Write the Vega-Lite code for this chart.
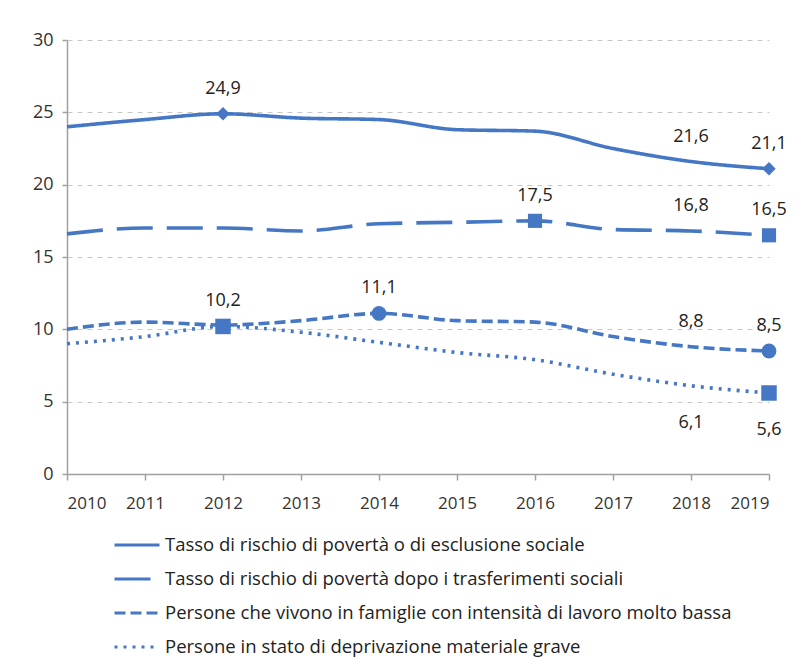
{
  "$schema": "https://vega.github.io/schema/vega-lite/v6.json",
  "width": 702,
  "height": 434,
  "autosize": "none",
  "padding": {"left": 67, "top": 40, "right": 42, "bottom": 183},
  "background": "white",
  "config": {
    "locale": {"number": {"decimal": ",", "thousands": ".", "grouping": [3], "currency": ["€", ""]}},
    "view": {"stroke": null},
    "font": "Open Sans"
  },
  "data": {
    "values": [
      {"series": "Tasso di rischio di povertà o di esclusione sociale", "year": 2010, "value": 24.0, "marker": false, "label": false},
      {"series": "Tasso di rischio di povertà o di esclusione sociale", "year": 2011, "value": 24.5, "marker": false, "label": false},
      {"series": "Tasso di rischio di povertà o di esclusione sociale", "year": 2012, "value": 24.9, "marker": true, "label": true},
      {"series": "Tasso di rischio di povertà o di esclusione sociale", "year": 2013, "value": 24.6, "marker": false, "label": false},
      {"series": "Tasso di rischio di povertà o di esclusione sociale", "year": 2014, "value": 24.5, "marker": false, "label": false},
      {"series": "Tasso di rischio di povertà o di esclusione sociale", "year": 2015, "value": 23.8, "marker": false, "label": false},
      {"series": "Tasso di rischio di povertà o di esclusione sociale", "year": 2016, "value": 23.7, "marker": false, "label": false},
      {"series": "Tasso di rischio di povertà o di esclusione sociale", "year": 2017, "value": 22.5, "marker": false, "label": false},
      {"series": "Tasso di rischio di povertà o di esclusione sociale", "year": 2018, "value": 21.6, "marker": false, "label": true},
      {"series": "Tasso di rischio di povertà o di esclusione sociale", "year": 2019, "value": 21.1, "marker": true, "label": true},
      {"series": "Tasso di rischio di povertà dopo i trasferimenti sociali", "year": 2010, "value": 16.6, "marker": false, "label": false},
      {"series": "Tasso di rischio di povertà dopo i trasferimenti sociali", "year": 2011, "value": 17.0, "marker": false, "label": false},
      {"series": "Tasso di rischio di povertà dopo i trasferimenti sociali", "year": 2012, "value": 17.0, "marker": false, "label": false},
      {"series": "Tasso di rischio di povertà dopo i trasferimenti sociali", "year": 2013, "value": 16.8, "marker": false, "label": false},
      {"series": "Tasso di rischio di povertà dopo i trasferimenti sociali", "year": 2014, "value": 17.3, "marker": false, "label": false},
      {"series": "Tasso di rischio di povertà dopo i trasferimenti sociali", "year": 2015, "value": 17.4, "marker": false, "label": false},
      {"series": "Tasso di rischio di povertà dopo i trasferimenti sociali", "year": 2016, "value": 17.5, "marker": true, "label": true},
      {"series": "Tasso di rischio di povertà dopo i trasferimenti sociali", "year": 2017, "value": 16.9, "marker": false, "label": false},
      {"series": "Tasso di rischio di povertà dopo i trasferimenti sociali", "year": 2018, "value": 16.8, "marker": false, "label": true},
      {"series": "Tasso di rischio di povertà dopo i trasferimenti sociali", "year": 2019, "value": 16.5, "marker": true, "label": true},
      {"series": "Persone che vivono in famiglie con intensità di lavoro molto bassa", "year": 2010, "value": 10.0, "marker": false, "label": false},
      {"series": "Persone che vivono in famiglie con intensità di lavoro molto bassa", "year": 2011, "value": 10.5, "marker": false, "label": false},
      {"series": "Persone che vivono in famiglie con intensità di lavoro molto bassa", "year": 2012, "value": 10.3, "marker": false, "label": false},
      {"series": "Persone che vivono in famiglie con intensità di lavoro molto bassa", "year": 2013, "value": 10.6, "marker": false, "label": false},
      {"series": "Persone che vivono in famiglie con intensità di lavoro molto bassa", "year": 2014, "value": 11.1, "marker": true, "label": true},
      {"series": "Persone che vivono in famiglie con intensità di lavoro molto bassa", "year": 2015, "value": 10.6, "marker": false, "label": false},
      {"series": "Persone che vivono in famiglie con intensità di lavoro molto bassa", "year": 2016, "value": 10.5, "marker": false, "label": false},
      {"series": "Persone che vivono in famiglie con intensità di lavoro molto bassa", "year": 2017, "value": 9.5, "marker": false, "label": false},
      {"series": "Persone che vivono in famiglie con intensità di lavoro molto bassa", "year": 2018, "value": 8.8, "marker": false, "label": true},
      {"series": "Persone che vivono in famiglie con intensità di lavoro molto bassa", "year": 2019, "value": 8.5, "marker": true, "label": true},
      {"series": "Persone in stato di deprivazione materiale grave", "year": 2010, "value": 9.0, "marker": false, "label": false},
      {"series": "Persone in stato di deprivazione materiale grave", "year": 2011, "value": 9.5, "marker": false, "label": false},
      {"series": "Persone in stato di deprivazione materiale grave", "year": 2012, "value": 10.2, "marker": true, "label": true},
      {"series": "Persone in stato di deprivazione materiale grave", "year": 2013, "value": 9.8, "marker": false, "label": false},
      {"series": "Persone in stato di deprivazione materiale grave", "year": 2014, "value": 9.1, "marker": false, "label": false},
      {"series": "Persone in stato di deprivazione materiale grave", "year": 2015, "value": 8.4, "marker": false, "label": false},
      {"series": "Persone in stato di deprivazione materiale grave", "year": 2016, "value": 7.9, "marker": false, "label": false},
      {"series": "Persone in stato di deprivazione materiale grave", "year": 2017, "value": 6.9, "marker": false, "label": false},
      {"series": "Persone in stato di deprivazione materiale grave", "year": 2018, "value": 6.1, "marker": false, "label": true},
      {"series": "Persone in stato di deprivazione materiale grave", "year": 2019, "value": 5.6, "marker": true, "label": true}
    ]
  },
  "encoding": {
    "x": {
      "field": "year", "type": "quantitative",
      "scale": {"domain": [2010, 2019], "nice": false, "zero": false},
      "axis": {
        "title": null, "values": [2010, 2011, 2012, 2013, 2014, 2015, 2016, 2017, 2018, 2019], "format": "d",
        "grid": false, "domainColor": "#a0a0a0", "domainWidth": 1.5, "tickColor": "#a0a0a0", "tickSize": 6, "tickWidth": 1.5,
        "labelFontSize": 17, "labelColor": "#333333", "labelPadding": 15
      }
    },
    "y": {
      "field": "value", "type": "quantitative",
      "scale": {"domain": [0, 30], "nice": false},
      "axis": {
        "title": null, "values": [0, 5, 10, 15, 20, 25, 30],
        "grid": true, "gridColor": "#c8c8c8", "gridDash": [5, 5], "gridWidth": 1.2,
        "domainColor": "#a0a0a0", "domainWidth": 1.5, "tickColor": "#a0a0a0", "tickSize": 5, "tickWidth": 1.5,
        "labelFontSize": 18, "labelColor": "#333333", "labelPadding": 9
      }
    }
  },
  "resolve": {"legend": {"shape": "independent", "strokeDash": "independent", "size": "independent"}},
  "layer": [
    {
      "mark": {"type": "line", "color": "#4577c4", "strokeWidth": 3.6, "strokeCap": "butt", "interpolate": "monotone"},
      "encoding": {
        "detail": {"field": "series"},
        "strokeDash": {
          "field": "series", "type": "nominal",
          "scale": {
            "domain": [
              "Tasso di rischio di povertà o di esclusione sociale",
              "Tasso di rischio di povertà dopo i trasferimenti sociali",
              "Persone che vivono in famiglie con intensità di lavoro molto bassa",
              "Persone in stato di deprivazione materiale grave"
            ],
            "range": [[1, 0], [36, 14], [11, 5], [3, 6]]
          },
          "legend": {
            "title": null, "orient": "none", "legendX": 46, "legendY": 481, "direction": "vertical",
            "symbolType": "stroke", "symbolSize": 2025, "symbolStrokeWidth": 3, "symbolStrokeColor": "#4577c4",
            "labelFontSize": 18.5, "labelColor": "#222222", "labelOffset": 4, "rowPadding": -13, "labelLimit": 700
          }
        }
      }
    },
    {
      "transform": [{"filter": "datum.marker"}],
      "mark": {"type": "point", "filled": true, "color": "#4577c4", "opacity": 1},
      "encoding": {
        "shape": {
          "field": "series", "type": "nominal",
          "scale": {
            "domain": [
              "Tasso di rischio di povertà o di esclusione sociale",
              "Tasso di rischio di povertà dopo i trasferimenti sociali",
              "Persone che vivono in famiglie con intensità di lavoro molto bassa",
              "Persone in stato di deprivazione materiale grave"
            ],
            "range": ["diamond", "square", "circle", "square"]
          },
          "legend": null
        },
        "size": {
          "field": "series", "type": "nominal",
          "scale": {
            "domain": [
              "Tasso di rischio di povertà o di esclusione sociale",
              "Tasso di rischio di povertà dopo i trasferimenti sociali",
              "Persone che vivono in famiglie con intensità di lavoro molto bassa",
              "Persone in stato di deprivazione materiale grave"
            ],
            "range": [180, 240, 120, 240]
          },
          "legend": null
        }
      }
    },
    {
      "transform": [{"filter": "datum.label && !(datum.series == 'Persone in stato di deprivazione materiale grave' && datum.year >= 2018)"}],
      "mark": {"type": "text", "dy": -25, "fontSize": 18, "color": "#222222", "baseline": "middle"},
      "encoding": {"text": {"field": "value", "type": "quantitative", "format": ".1f"}}
    },
    {
      "transform": [{"filter": "datum.label && datum.series == 'Persone in stato di deprivazione materiale grave' && datum.year >= 2018"}],
      "mark": {"type": "text", "dy": 37, "fontSize": 18, "color": "#222222", "baseline": "middle"},
      "encoding": {"text": {"field": "value", "type": "quantitative", "format": ".1f"}}
    }
  ]
}
